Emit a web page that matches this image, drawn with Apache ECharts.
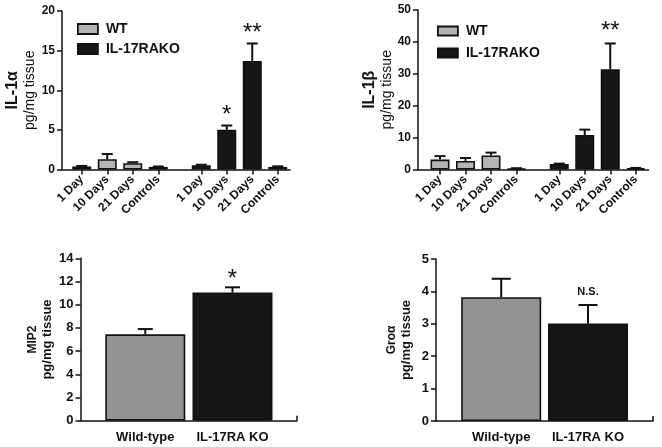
<!DOCTYPE html>
<html><head><meta charset="utf-8">
<script src="https://cdn.jsdelivr.net/npm/echarts@6/dist/echarts.min.js"></script>
<style>html,body{margin:0;padding:0;background:#fff}#c{width:662px;height:447px}</style>
</head><body><div id="c"></div>
<script>
// ---- data ----
const timeCats = ['1 Day', '10 Days', '21 Days', 'Controls'];
const groupNames = ['WT', 'IL-17RAKO'];
const il1aWT = [0.38, 1.3, 0.8, 0.33];
const il1aWTErr = [0.07, 0.65, 0.12, 0.05];
const il1aKO = [0.55, 5.0, 13.7, 0.33];
const il1aKOErr = [0.05, 0.55, 2.2, 0.07];
const il1aKOSig = ['', '*', '**', ''];
const il1bWT = [3.1, 2.7, 4.4, 0.3];
const il1bWTErr = [1.1, 0.9, 0.9, 0.1];
const il1bKO = [1.7, 10.8, 31.4, 0.4];
const il1bKOErr = [0.15, 1.7, 8.1, 0.1];
const il1bKOSig = ['', '', '**', ''];
const bottomCats = ['Wild-type', 'IL-17RA KO'];
const mip2 = [7.45, 11.05];
const mip2Err = [0.45, 0.45];
const mip2Sig = ['', '*'];
const gro = [3.82, 3.01];
const groErr = [0.57, 0.57];
const groSig = ['', 'N.S.'];
const il1aTicks = {min: 0, max: 20, interval: 5};
const il1bTicks = {min: 0, max: 50, interval: 10};
const mip2Ticks = {min: 0, max: 14, interval: 2};
const groTicks = {min: 0, max: 5, interval: 1};

// ---- styling helpers ----
const FONT = 'Liberation Sans';
const INK = '#111';
const GRAY_TOP = '#b5b5b5';
const GRAY_BOT = '#939393';
const BLACK = '#161616';

function grid(l, r, t, b) {
  return {left: l, right: r, top: t, bottom: b, containLabel: false, outerBoundsMode: 'none'};
}
function decorX(gi, endTick) {
  return {
    type: 'category', gridIndex: gi, data: ['a', 'b'], boundaryGap: false,
    axisLine: {show: true, lineStyle: {color: INK, width: 1.5}},
    axisTick: endTick ? {show: true, inside: true, length: 5, lineStyle: {color: INK, width: 1.5}, interval: (i) => i === 1} : {show: false},
    axisLabel: {show: false}, splitLine: {show: false}
  };
}
function decorY(gi, ticks, name, nameGap, rich, fontSize) {
  return {
    type: 'value', gridIndex: gi, min: ticks.min, max: ticks.max, interval: ticks.interval,
    axisLine: {show: true, lineStyle: {color: INK, width: 1.5}},
    axisTick: {show: true, length: 5, lineStyle: {color: INK, width: 1.5}},
    axisLabel: {color: INK, fontWeight: 'bold', fontSize: fontSize, fontFamily: FONT, margin: 7},
    splitLine: {show: false},
    name: name, nameLocation: 'middle', nameRotate: 90, nameGap: nameGap,
    nameTextStyle: {color: INK, fontFamily: FONT, rich: rich}
  };
}
function barX(gi, cats, rotated) {
  return {
    type: 'category', gridIndex: gi, data: cats,
    axisLine: {show: false},
    axisTick: rotated ? {show: true, alignWithLabel: true, length: 5, lineStyle: {color: INK, width: 1.5}} : {show: false},
    axisLabel: rotated
      ? {rotate: 45, interval: 0, color: INK, fontWeight: 'bold', fontSize: 12, fontFamily: FONT, margin: 8}
      : {interval: 0, color: INK, fontWeight: 'bold', fontSize: 13, fontFamily: FONT, margin: 10},
    splitLine: {show: false}
  };
}
function hiddenY(gi, ticks) {
  return {type: 'value', gridIndex: gi, min: ticks.min, max: ticks.max, show: false, splitLine: {show: false}};
}
function bar(name, ai, data, color, width) {
  return {
    type: 'bar', name: name, xAxisIndex: ai, yAxisIndex: ai, data: data, barWidth: width,
    itemStyle: {color: color, borderColor: INK, borderWidth: 1.6}, z: 2, silent: true
  };
}
function errs(ai, vals, errv, sig, capW, sigFont, sigGap) {
  return {
    type: 'custom', xAxisIndex: ai, yAxisIndex: ai, z: 3, silent: true,
    data: vals.map((v, i) => [i, v, errv[i]]),
    encode: {x: 0, y: 1},
    renderItem: function (params, api) {
      const i = api.value(0), v = api.value(1), e = api.value(2);
      const p0 = api.coord([i, v]);
      const p1 = api.coord([i, v + e]);
      const children = [
        {type: 'line', shape: {x1: p0[0], y1: p0[1], x2: p1[0], y2: p1[1]}, style: {stroke: INK, lineWidth: 2}},
        {type: 'line', shape: {x1: p1[0] - capW / 2, y1: p1[1], x2: p1[0] + capW / 2, y2: p1[1]}, style: {stroke: INK, lineWidth: 2}}
      ];
      const s = sig ? sig[params.dataIndex] : '';
      if (s) {
        children.push({type: 'text', x: p1[0], y: p1[1] - sigGap,
          style: {text: s, font: sigFont, fill: INK, align: 'center', verticalAlign: 'middle'}});
      }
      return {type: 'group', children: children};
    }
  };
}
function legend(l, t, ih, gap) {
  return {
    data: groupNames, orient: 'vertical', left: l, top: t, padding: 0,
    itemWidth: 20, itemHeight: ih, itemGap: gap,
    icon: 'rect', selectedMode: false,
    textStyle: {fontSize: 14, fontWeight: 'bold', color: INK, fontFamily: FONT, padding: [0, 0, 0, 3]},
    itemStyle: {borderColor: INK, borderWidth: 1.8}
  };
}

const topRich = () => ({
  a: {fontSize: 16, fontWeight: 'bold', lineHeight: 18, fontFamily: FONT, color: INK},
  b: {fontSize: 14, fontWeight: 'normal', lineHeight: 16, fontFamily: FONT, color: INK}
});
const botRich = {
  a: {fontSize: 12, fontWeight: 'bold', lineHeight: 14, fontFamily: FONT, color: INK},
  b: {fontSize: 13, fontWeight: 'bold', lineHeight: 15, fontFamily: FONT, color: INK}
};

const option = {
  animation: false,
  textStyle: {fontFamily: FONT},
  legend: [legend(77, 22, 10, 6), legend(437, 24, 9, 8)],
  grid: [
    grid(62, 372, 11, 277.5),        // 0 TL decor
    grid(69, 491, 11, 277.5),        // 1 TL WT
    grid(188.5, 371.5, 11, 277.5),   // 2 TL KO
    grid(418, 13.5, 10, 277.5),      // 3 TR decor
    grid(427.25, 132.75, 10, 277.5), // 4 TR WT
    grid(546.5, 13.5, 10, 277.5),    // 5 TR KO
    grid(80.5, 365, 258.3, 26.3),    // 6 BL decor
    grid(101.7, 385.9, 258.3, 26.3), // 7 BL bars
    grid(436, 9, 259, 26),           // 8 BR decor
    grid(457.8, 30.6, 259, 26)       // 9 BR bars
  ],
  xAxis: [
    decorX(0, false), barX(1, timeCats, true), barX(2, timeCats, true),
    decorX(3, false), barX(4, timeCats, true), barX(5, timeCats, true),
    decorX(6, true), barX(7, bottomCats, false),
    decorX(8, true), barX(9, bottomCats, false)
  ],
  yAxis: [
    decorY(0, il1aTicks, '{a|IL-1α}\n{b|pg/mg tissue}', 24, topRich(), 12),
    hiddenY(1, il1aTicks), hiddenY(2, il1aTicks),
    decorY(3, il1bTicks, '{a|IL-1β}\n{b|pg/mg tissue}', 22, topRich(), 12),
    hiddenY(4, il1bTicks), hiddenY(5, il1bTicks),
    decorY(6, mip2Ticks, '{a|MIP2}\n{b|pg/mg tissue}', 26, botRich, 13),
    hiddenY(7, mip2Ticks),
    decorY(8, groTicks, '{a|Groα}\n{b|pg/mg tissue}', 22, botRich, 13),
    hiddenY(9, groTicks)
  ],
  series: [
    bar('WT', 1, il1aWT, GRAY_TOP, 19),
    bar('IL-17RAKO', 2, il1aKO, BLACK, 19),
    errs(1, il1aWT, il1aWTErr, null, 11, '', 0),
    errs(2, il1aKO, il1aKOErr, il1aKOSig, 11, '24px ' + FONT, 10),
    bar('WT', 4, il1bWT, GRAY_TOP, 19),
    bar('IL-17RAKO', 5, il1bKO, BLACK, 19),
    errs(4, il1bWT, il1bWTErr, null, 11, '', 0),
    errs(5, il1bKO, il1bKOErr, il1bKOSig, 11, '24px ' + FONT, 12),
    bar('Wild-type', 7, [mip2[0], '-'], GRAY_BOT, 80),
    bar('IL-17RA KO', 7, ['-', mip2[1]], BLACK, 80),
    errs(7, mip2, mip2Err, mip2Sig, 15, '24px ' + FONT, 7.5),
    bar('Wild-type', 9, [gro[0], '-'], GRAY_BOT, 80),
    bar('IL-17RA KO', 9, ['-', gro[1]], BLACK, 80),
    errs(9, gro, groErr, groSig, 19, 'bold 11px ' + FONT, 12.6)
  ]
};
// bottom panels: the two series share one category axis, so they overlap in place
option.series.forEach(s => { if (s.type === 'bar' && (s.xAxisIndex === 7 || s.xAxisIndex === 9)) s.barGap = '-100%'; });
const chart = echarts.init(document.getElementById('c'), null, {renderer: 'canvas'});
chart.setOption(option);
</script>
</body></html>
